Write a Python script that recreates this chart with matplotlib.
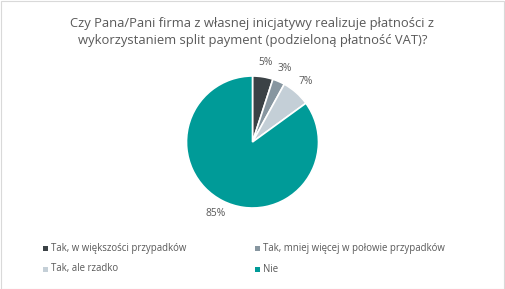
import matplotlib
matplotlib.use("Agg")
import matplotlib.pyplot as plt
from matplotlib.patches import Rectangle

title = "Czy Pana/Pani firma z własnej inicjatywy realizuje płatności z\nwykorzystaniem split payment (podzieloną płatność VAT)?"
categories = ["Tak, w większości przypadków", "Tak, mniej więcej w połowie przypadków",
              "Tak, ale rzadko", "Nie"]
values = [5, 3, 7, 85]
colors = ["#3b4246", "#8796a0", "#c4cfd7", "#009b98"]

W, H = 505, 289
fig = plt.figure(figsize=(W / 100, H / 100), dpi=100)
fig.patch.set_facecolor("white")
fig.add_artist(Rectangle((0.5 / W, 0.5 / H), 1 - 1.5 / W, 1 - 1.5 / H, transform=fig.transFigure,
                         fill=False, edgecolor="#d9d9d9", linewidth=0.8))

font = "Open Sans"
fig.text(0.5, 1 - 32 / H, title, ha="center", va="center", fontsize=9.4, color="#595959",
         family=font, linespacing=1.45)

cx, cy, r = 252.5, 142, 66
ax = fig.add_axes([(cx - r) / W, (H - cy - r) / H, 2 * r / W, 2 * r / H])
wedges, texts, autotexts = ax.pie(values, colors=colors, startangle=90, counterclock=False,
                                  autopct=lambda p: f"{p:.0f}%", pctdistance=1.22,
                                  wedgeprops=dict(edgecolor="white", linewidth=1.2))
for t in autotexts:
    t.set_color("#595959")
    t.set_fontsize(7.4)
    t.set_family(font)
ax.set_aspect("equal")
ax.set_xlim(-1, 1)
ax.set_ylim(-1, 1)

# legend
pos = [(45, 248), (257, 248), (45, 269), (257, 269)]
for (x, y), lab, c in zip(pos, categories, colors):
    fig.add_artist(Rectangle(((x - 2.5) / W, (H - y - 2.5) / H), 5 / W, 5 / H,
                             transform=fig.transFigure, facecolor=c, edgecolor="none"))
    fig.text((x + 6) / W, 1 - y / H, lab, ha="left", va="center", fontsize=6.9,
             color="#595959", family=font)

fig.savefig("out.png", dpi=100)
